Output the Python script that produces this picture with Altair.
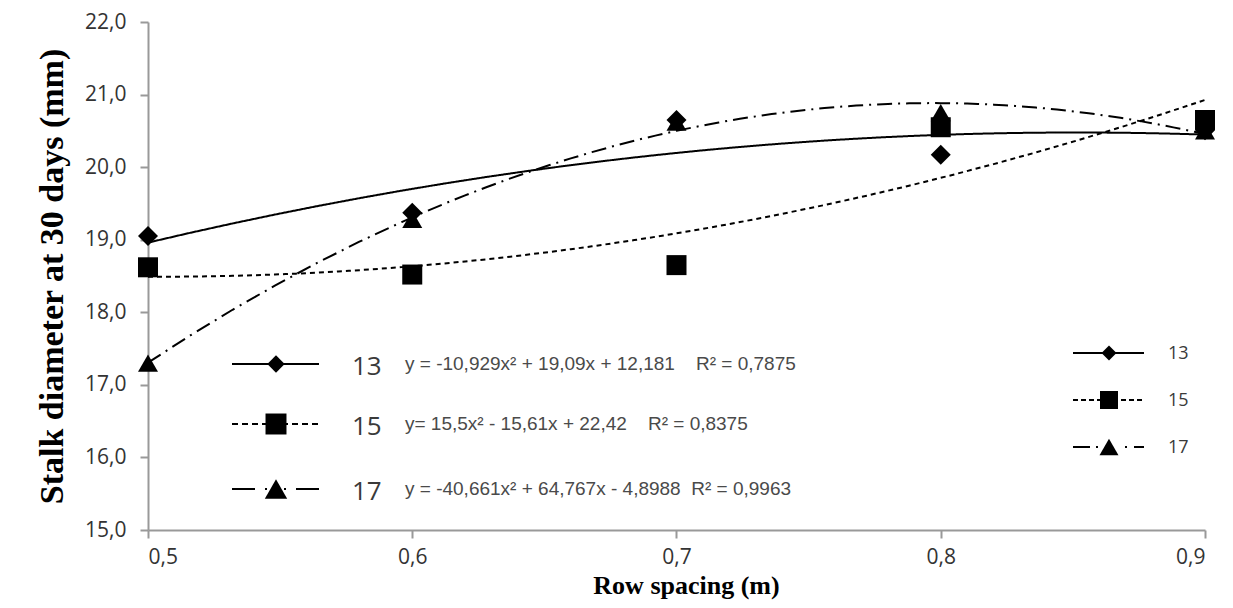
import altair as alt
import pandas as pd

# ---- data ----
row_spacing = [0.5, 0.6, 0.7, 0.8, 0.9]
d13 = [19.05, 19.37, 20.65, 20.17, 20.51]
d15 = [18.62, 18.52, 18.65, 20.55, 20.65]
d17 = [17.30, 19.28, 20.62, 20.75, 20.50]
groups = ["13", "15", "17"]
NB = "\u00a0"
equations = [
    "y = -10,929x² + 19,09x + 12,181" + NB * 4 + "R² = 0,7875",
    "y= 15,5x² - 15,61x + 22,42" + NB * 4 + "R² = 0,8375",
    "y = -40,661x² + 64,767x - 4,8988" + NB * 2 + "R² = 0,9963",
]
y_ticks = [15, 16, 17, 18, 19, 20, 21, 22]
x_ticks = [0.5, 0.6, 0.7, 0.8, 0.9]

rows = []
for g, vals in zip(groups, [d13, d15, d17]):
    for xv, yv in zip(row_spacing, vals):
        rows.append({"group": g, "x": xv, "y": yv})
df = pd.DataFrame(rows)

# ---- styles ----
shapes = ["diamond", "square", "triangle-up"]
sizes = [400, 400, 440]
dashes = [[1, 0], [5, 4], [15, 6, 2, 6]]
shape_scale = alt.Scale(domain=groups, range=shapes)
size_scale = alt.Scale(domain=groups, range=sizes)
dash_scale = alt.Scale(domain=groups, range=dashes)

comma_fmt = "replace(format(datum.value, '.1f'), '.', ',')"
PX, PY = 148, 22          # page position of the plot origin
W, H = 1057, 508

x_axis = alt.Axis(values=x_ticks, title="Row spacing (m)", labelExpr=comma_fmt,
                  grid=False, domainColor="#999999", domainWidth=2, tickColor="#999999",
                  tickWidth=2, tickSize=8, labelPadding=8, labelFont="Open Sans",
                  labelFontSize=21, labelColor="#333333", titleFont="Liberation Serif",
                  titleFontSize=26, titleFontWeight="bold", titleColor="#000000",
                  titleX=686 - PX, titleY=593 - (PY + H), titleBaseline="alphabetic",
                  titleAlign="center")
y_axis = alt.Axis(values=y_ticks, title="Stalk diameter at 30 days (mm)", labelExpr=comma_fmt,
                  grid=False, domainColor="#999999", domainWidth=2, tickColor="#999999",
                  tickWidth=2, tickSize=8, labelPadding=14, labelFont="Open Sans",
                  labelFontSize=21, labelColor="#333333", titleFont="Liberation Serif",
                  titleFontSize=34, titleFontWeight="bold", titleColor="#000000",
                  titleX=62 - PX, titleY=276 - PY, titleAngle=270,
                  titleBaseline="alphabetic", titleAlign="center")

xenc = alt.X("x:Q", scale=alt.Scale(domain=[0.5, 0.9], nice=False, zero=False), axis=x_axis)
yenc = alt.Y("y:Q", scale=alt.Scale(domain=[15, 22], nice=False, zero=False), axis=y_axis)

trend = alt.Chart(df).transform_regression(
    "x", "y", groupby=["group"], method="poly", order=2
).mark_line(color="black", strokeWidth=2).encode(
    x=xenc, y=yenc,
    strokeDash=alt.StrokeDash("group:N", scale=dash_scale, legend=None),
    detail="group:N",
)

points = alt.Chart(df).mark_point(filled=True, color="black", opacity=1).encode(
    x=xenc, y=yenc,
    shape=alt.Shape("group:N", scale=shape_scale, legend=None),
    size=alt.Size("group:N", scale=size_scale, legend=None),
)

layers = [trend, points]

# ---- hand-built legends (page pixel layout) ----
L_line = (232, 319)
L_sym = 276
L_num = 352
L_eq = 405
L_rows = [364, 424, 489]
L_sizes = [300, 440, 500]
R_line = (1073, 1144)
R_sym = 1109
R_num = 1168
R_rows = [353, 400, 447]
R_sizes = [225, 324, 360]

left_dash = [[1, 0], [6, 4], None]
right_dash = [[1, 0], [5, 3], None]


def seg(g, x1, x2, y, dash):
    return alt.Chart(pd.DataFrame({"group": [g]})).mark_rule(
        color="black", strokeWidth=2, strokeDash=dash
    ).encode(x=alt.value(x1 - PX), x2=alt.value(x2 - PX), y=alt.value(y - PY))


def sym(g, x, y, shape, size):
    return alt.Chart(pd.DataFrame({"group": [g]})).mark_point(
        filled=True, color="black", opacity=1, shape=shape, size=size
    ).encode(x=alt.value(x - PX), y=alt.value(y - PY))


def txt(label, x, y, font, size, color):
    return alt.Chart(pd.DataFrame({"label": [label]})).mark_text(
        align="left", baseline="middle", font=font, fontSize=size, color=color
    ).encode(x=alt.value(x - PX), y=alt.value(y - PY), text="label:N")


for i, g in enumerate(groups):
    y = L_rows[i]
    if left_dash[i] is not None:
        layers.append(seg(g, L_line[0], L_line[1], y, left_dash[i]))
    else:
        layers.append(seg(g, L_line[0], L_sym, y, [23, 10, 2, 30]))
        layers.append(seg(g, L_line[1], L_sym, y, [23, 10, 2, 30]))
    layers.append(sym(g, L_sym, y, shapes[i], L_sizes[i]))
    layers.append(txt(g, L_num, y + 3, "Open Sans", 26, "#3a3a3a"))
    layers.append(txt(equations[i], L_eq, y, "Liberation Sans", 19, "#4a4a4a"))

    y = R_rows[i]
    if right_dash[i] is not None:
        layers.append(seg(g, R_line[0], R_line[1], y, right_dash[i]))
    else:
        layers.append(seg(g, R_line[0], R_sym, y, [17, 6, 2, 30]))
        layers.append(seg(g, R_line[1], R_sym, y, [10, 7, 2, 30]))
    layers.append(sym(g, R_sym, y, shapes[i], R_sizes[i]))
    layers.append(txt(g, R_num, y + 1, "Open Sans", 18, "#3a3a3a"))

chart = alt.layer(*layers).properties(
    width=W, height=H,
    padding={"left": PX - 8, "top": PY - 8, "right": 1217 - PX - W, "bottom": 592 - (PY - 8) - H},
    autosize=alt.AutoSizeParams(type="none"),
).configure_view(stroke=None)

chart.save("out.html", embed_options={"renderer": "svg", "actions": False})
